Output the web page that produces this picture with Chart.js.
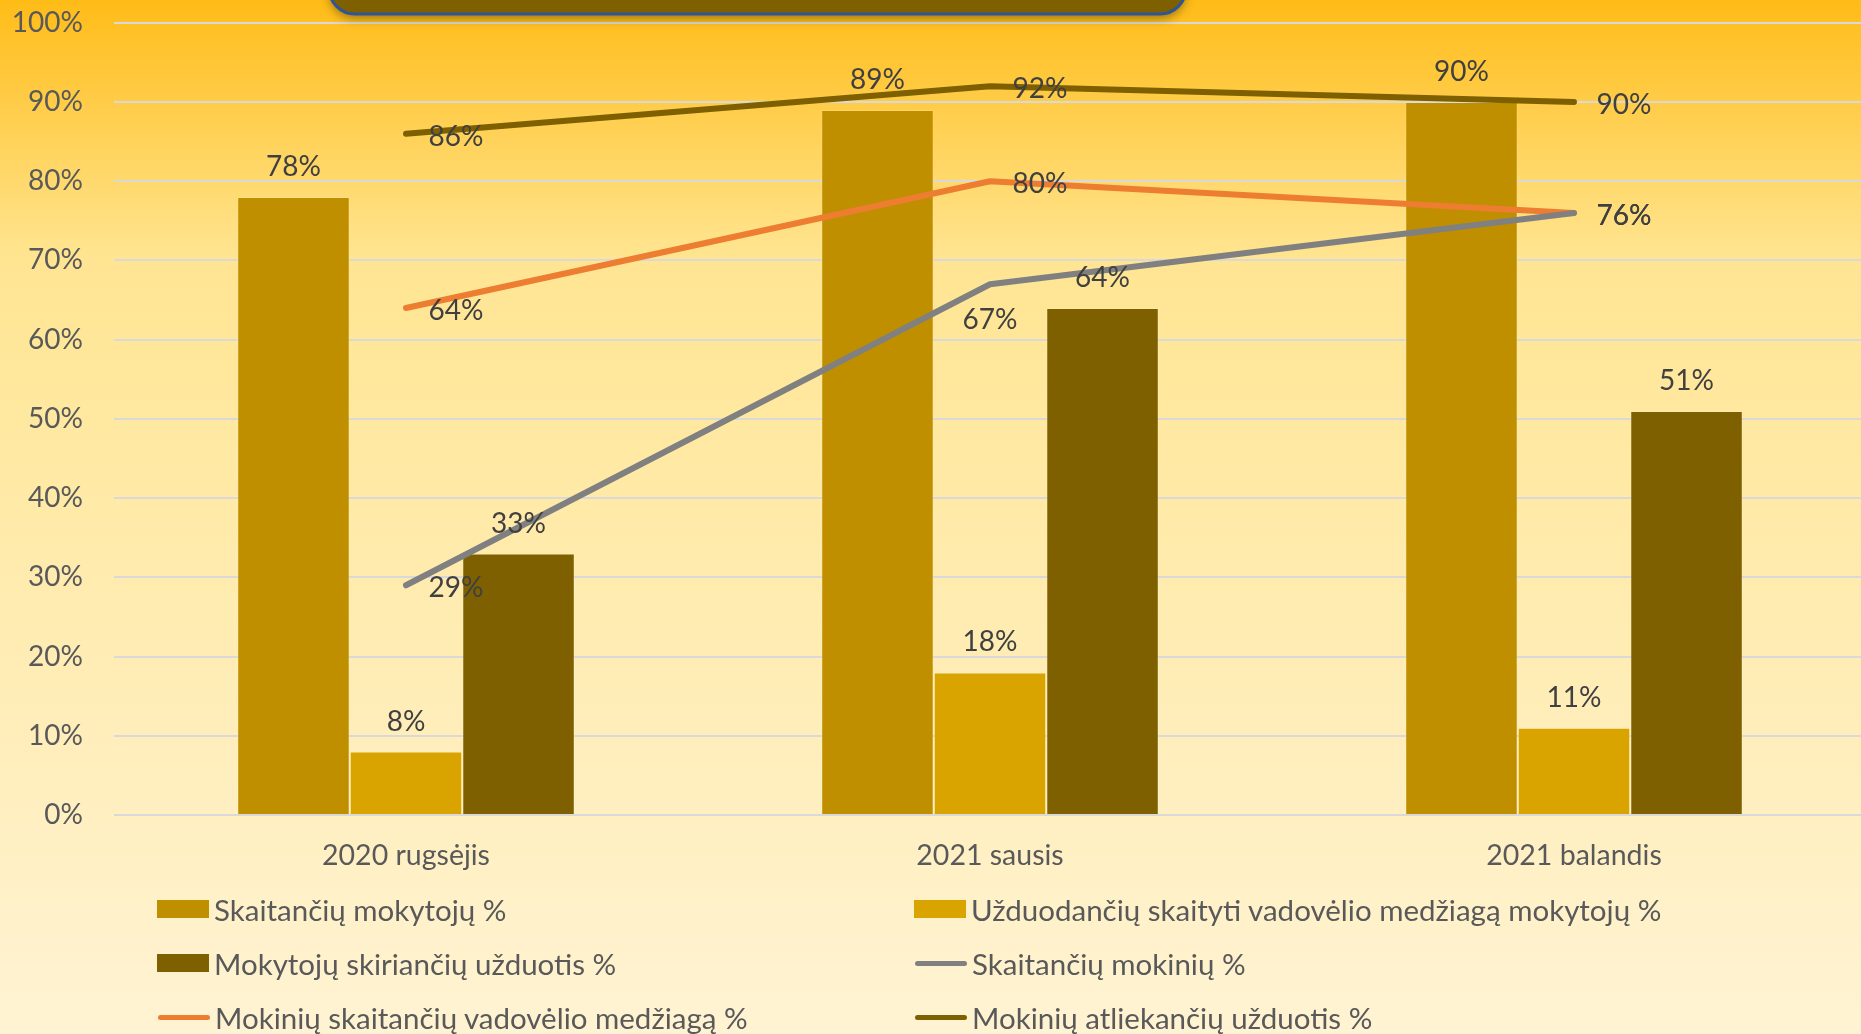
<!DOCTYPE html>
<html>
<head>
<meta charset="utf-8">
<script src="https://cdn.jsdelivr.net/npm/chart.js@4"></script>
<style>
  html, body { margin: 0; padding: 0; overflow: hidden; width: 1861px; height: 1034px; }
  #wrap { position: relative; top: -25px; width: 1866px; height: 1059px; }
  #legend {
    position: absolute; left: 157px; top: 907px;
    display: grid; grid-template-columns: 757px 760px; row-gap: 0;
    font-family: Lato, sans-serif; font-size: 29.5px; color: #595959;
  }
  #legend .item { display: flex; align-items: center; height: 54px; white-space: nowrap; }
  #legend .box { flex-shrink: 0; width: 52px; height: 18px; margin-right: 5px; }
  #legend .line { flex-shrink: 0; width: 52px; height: 5px; border-radius: 3px; margin: 0 5px 0 1px; }
</style>
</head>
<body>
<div id="wrap">
  <canvas id="chart" width="1866" height="1059"></canvas>
  <div id="legend"></div>
</div>
<script>
const categories = ['2020 rugsėjis', '2021 sausis', '2021 balandis'];
const teachersReading = [78, 89, 90];
const teachersAssigningReading = [8, 18, 11];
const teachersGivingTasks = [33, 64, 51];
const studentsReading = [29, 67, 76];
const studentsReadingTextbook = [64, 80, 76];
const studentsDoingTasks = [86, 92, 90];
const yTicks = [0, 10, 20, 30, 40, 50, 60, 70, 80, 90, 100];

// where each line label sits next to its point
const linePlacement = {
  'Skaitančių mokinių %': ['right', 'below', 'right'],
  'Mokinių skaitančių vadovėlio medžiagą %': ['right', 'right', 'right'],
  'Mokinių atliekančių užduotis %': ['right', 'right', 'right']
};

const labelFont = '28px Lato';
const pageShift = 25; // canvas sits this many px above the page top

// Background gradient behind everything
const backgroundPlugin = {
  id: 'bg',
  beforeDraw(chart) {
    const ctx = chart.ctx;
    const g = ctx.createLinearGradient(0, pageShift, 0, chart.height);
    g.addColorStop(0, '#FFBC17');
    g.addColorStop(0.25, '#FFE592');
    g.addColorStop(0.55, '#FFEBAD');
    g.addColorStop(1, '#FFF3D3');
    ctx.save();
    ctx.fillStyle = g;
    ctx.fillRect(0, 0, chart.width, chart.height);
    ctx.restore();
  }
};

// Bottom of the title box that is cut off at the top of the picture
const titleBoxPlugin = {
  id: 'titleBox',
  afterDraw(chart) {
    const ctx = chart.ctx;
    const x = 329, w = 857, y = pageShift - 60, h = 74, r = 26;
    ctx.save();
    ctx.shadowColor = 'rgba(90, 70, 0, 0.55)';
    ctx.shadowBlur = 10;
    ctx.shadowOffsetY = 5;
    ctx.beginPath();
    ctx.roundRect(x, y, w, h, r);
    ctx.fillStyle = '#7F6000';
    ctx.fill();
    ctx.shadowColor = 'transparent';
    ctx.lineWidth = 3;
    ctx.strokeStyle = '#2F5597';
    ctx.stroke();
    ctx.restore();
  }
};

// Value labels for bars and lines
const valueLabelPlugin = {
  id: 'valueLabels',
  afterDatasetsDraw(chart) {
    const ctx = chart.ctx;
    ctx.save();
    ctx.font = labelFont;
    ctx.fillStyle = '#404040';
    ctx.textAlign = 'center';
    ctx.textBaseline = 'middle';
    chart.data.datasets.forEach((ds, i) => {
      const meta = chart.getDatasetMeta(i);
      meta.data.forEach((el, j) => {
        const text = ds.data[j] + '%';
        if (ds.type === 'line') {
          const pos = linePlacement[ds.label][j];
          if (pos === 'below') {
            ctx.fillText(text, el.x, el.y + 36);
          } else {
            ctx.fillText(text, el.x + 50, el.y + 3);
          }
        } else {
          ctx.fillText(text, el.x, el.y - 30);
        }
      });
    });
    ctx.restore();
  }
};

function barSet(label, data, color) {
  return {
    type: 'bar', label: label, data: data,
    backgroundColor: color, borderColor: 'rgba(255,255,255,0.12)', borderWidth: 1,
    categoryPercentage: 0.578, barPercentage: 1, order: 2
  };
}

function lineSet(label, data, color) {
  return {
    type: 'line', label: label, data: data,
    borderColor: color, backgroundColor: color, borderWidth: 6,
    borderCapStyle: 'round', borderJoinStyle: 'round',
    pointRadius: 0, pointHoverRadius: 0, tension: 0, fill: false, order: 1
  };
}

const chart = new Chart(document.getElementById('chart'), {
  data: {
    labels: categories,
    datasets: [
      barSet('Skaitančių mokytojų %', teachersReading, '#BF8F00'),
      barSet('Užduodančių skaityti vadovėlio medžiagą mokytojų %', teachersAssigningReading, '#D9A400'),
      barSet('Mokytojų skiriančių užduotis %', teachersGivingTasks, '#7F6000'),
      lineSet('Skaitančių mokinių %', studentsReading, '#808080'),
      lineSet('Mokinių skaitančių vadovėlio medžiagą %', studentsReadingTextbook, '#ED7D31'),
      lineSet('Mokinių atliekančių užduotis %', studentsDoingTasks, '#7F6000')
    ]
  },
  options: {
    responsive: false,
    devicePixelRatio: 1,
    animation: false,
    layout: { padding: { top: 0, left: 0, right: 0, bottom: 0 } },
    plugins: {
      legend: { display: false },
      tooltip: { enabled: false }
    },
    scales: {
      x: {
        grid: { display: false },
        border: { display: false },
        ticks: { font: { family: 'Lato', size: 28.5 }, color: '#595959', padding: 16 },
        afterFit(scale) { scale.height = 219; }
      },
      y: {
        min: 0, max: 100,
        afterBuildTicks(scale) { scale.ticks = yTicks.map(v => ({ value: v })); },
        grid: { color: '#D9D9D9', lineWidth: 2, drawTicks: false },
        border: { display: false },
        ticks: {
          font: { family: 'Lato', size: 28 }, color: '#595959', padding: 31,
          callback: v => v + '%'
        },
        afterFit(scale) { scale.width = 114; }
      }
    }
  },
  plugins: [backgroundPlugin, valueLabelPlugin, titleBoxPlugin]
});

// Build a two-column legend from the datasets
function buildLegend() {
  const legend = document.getElementById('legend');
  chart.data.datasets.forEach(ds => {
    const item = document.createElement('div');
    item.className = 'item';
    const key = document.createElement('span');
    key.className = ds.type === 'line' ? 'line' : 'box';
    key.style.background = ds.type === 'line' ? ds.borderColor : ds.backgroundColor;
    const text = document.createElement('span');
    text.textContent = ds.label;
    item.appendChild(key);
    item.appendChild(text);
    legend.appendChild(item);
  });
}

buildLegend();
</script>
</body>
</html>
